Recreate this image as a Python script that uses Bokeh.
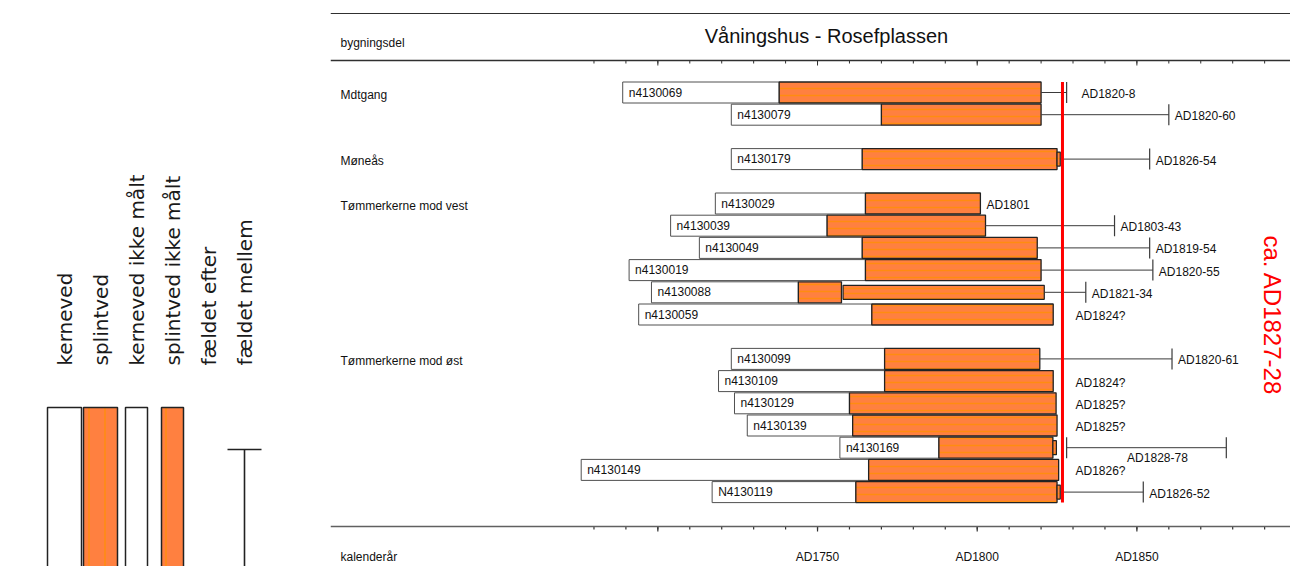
import math
from bokeh.plotting import figure
from bokeh.layouts import row as layout_row
from bokeh.models import Range1d, Span, ColumnDataSource
from bokeh.core.properties import value
from bokeh.embed import file_html
from bokeh.resources import INLINE

# ---------------- data ----------------
TITLE = "Våningshus - Rosefplassen"
HEADER = "bygningsdel"
AXIS_NAME = "kalenderår"

GROUP_LABELS = ["Mdtgang", "Møneås", "Tømmerkerne mod  vest", "Tømmerkerne mod øst"]
GROUP_ROWS = [0, 3, 5, 12]

SAMPLES = ["n4130069", "n4130079", "n4130179", "n4130029", "n4130039", "n4130049",
           "n4130019", "n4130088", "n4130059", "n4130099", "n4130109", "n4130129",
           "n4130139", "n4130169", "n4130149", "N4130119"]
ROWS = [0, 1, 3, 5, 6, 7, 8, 9, 10, 12, 13, 14, 15, 16, 17, 18]
HEART_START = [1689, 1723, 1723, 1718, 1704, 1713, 1691, 1698, 1694, 1723, 1719, 1724,
               1728, 1757, 1676, 1717]
SAP_START = [1738, 1770, 1764, 1765, 1753, 1764, 1765, 1744, 1767, 1771, 1771, 1760,
             1761, 1788, 1766, 1762]
SAP_END = [1820, 1820, 1825, 1801, 1802.6, 1818.8, 1820, 1757.5, 1823.8, 1819.6, 1823.8,
           1824.7, 1825, 1823.7, 1825.5, 1825]
FELLED_AFTER = [1828, 1860, 1854, None, 1843, 1854, 1855, 1834, None, 1861, None, None,
                None, None, None, 1852]
DATE_LABELS = ["AD1820-8", "AD1820-60", "AD1826-54", "AD1801", "AD1803-43", "AD1819-54",
               "AD1820-55", "AD1821-34", "AD1824?", "AD1820-61", "AD1824?", "AD1825?",
               "AD1825?", "AD1828-78", "AD1826?", "AD1826-52"]

# sapwood not measured (thin bars)
UNMEAS_ROWS = [3, 9, 16, 18]
UNMEAS_START = [1825, 1758, 1823.7, 1825]
UNMEAS_END = [1826, 1821, 1824.8, 1826]

# felled between
RANGE_ROWS = [16]
RANGE_FROM = [1828]
RANGE_TO = [1878]

FELLING_YEAR = 1826.7
FELLING_TEXT = "ca. AD1827-28"

MAJOR_TICKS = [1700, 1750, 1800, 1850]
MINOR_TICKS = list(range(1680, 1900, 10))
TICK_LABELS = ["", "AD1750", "AD1800", "AD1850"]

LEGEND_LABELS = ["kerneved", "splintved", "kerneved ikke målt", "splintved ikke målt",
                 "fældet efter", "fældet mellem"]

# ---------------- styles / geometry ----------------
ORANGE = "#FF8040"
STRIPE = "#FF8C10"
INK = "#111111"
FONT = "Liberation Sans"
X_START, X_END = 1597.5, 1898.1
LEG_W = 330
MAIN_W, H = 960, 566
ROW_PX = 22.2
ROW0_PX = 92                   # canvas y of row 0 centre
PXY = MAIN_W / (X_END - X_START)


def year_at(px):               # canvas x -> year
    return X_START + px / PXY


def row_at(py):                # canvas y -> row index
    return (py - ROW0_PX) / ROW_PX


def rw(px):
    return px / ROW_PX


BAR_H = rw(21)
THIN_H = rw(14)
AXIS_Y = row_at(526)
HEAD_Y = row_at(60)

p = figure(width=MAIN_W, height=H, output_backend="svg", toolbar_location=None,
           x_range=Range1d(X_START, X_END), y_range=Range1d(row_at(H), row_at(0)),
           x_axis_location=None, y_axis_location=None, min_border=0)
p.min_border_left = p.min_border_right = p.min_border_top = p.min_border_bottom = 0
p.frame_align = False
p.outline_line_color = None
p.grid.visible = False


def tick_marks(y_line, y_minor, y_major, color, width):
    p.segment(x0=MINOR_TICKS, y0=[y_line] * len(MINOR_TICKS), x1=MINOR_TICKS,
              y1=[y_minor] * len(MINOR_TICKS), line_color=color, line_width=width)
    p.segment(x0=MAJOR_TICKS, y0=[y_line] * len(MAJOR_TICKS), x1=MAJOR_TICKS,
              y1=[y_major] * len(MAJOR_TICKS), line_color=color, line_width=width)


# header lines and time axes
p.add_layout(Span(location=row_at(13), dimension="width", line_color="#303030", line_width=1))
p.add_layout(Span(location=HEAD_Y, dimension="width", line_color="#303030", line_width=1.3))
tick_marks(HEAD_Y, HEAD_Y + rw(3), HEAD_Y + rw(5), "#303030", 1)
p.add_layout(Span(location=AXIS_Y, dimension="width", line_color="#606060", line_width=1.6))
tick_marks(AXIS_Y, AXIS_Y + rw(3), AXIS_Y + rw(5), "#303030", 1.2)
p.text(x=MAJOR_TICKS, y=[row_at(556)] * len(MAJOR_TICKS), text=TICK_LABELS,
       text_font=value(FONT), text_font_size="12px", text_align="center",
       text_baseline="middle", text_color=INK)
p.text(x=[year_at(10)], y=[row_at(556)], text=[AXIS_NAME], text_font=value(FONT),
       text_font_size="12px", text_align="left", text_baseline="middle", text_color=INK)

p.text(x=[year_at(496)], y=[row_at(35)], text=[TITLE], text_font=value(FONT),
       text_font_size="20px", text_align="center", text_baseline="middle", text_color=INK)
p.text(x=[year_at(10)], y=[row_at(42)], text=[HEADER], text_font=value(FONT),
       text_font_size="12px", text_align="left", text_baseline="middle", text_color=INK)
p.text(x=[year_at(10)] * len(GROUP_ROWS), y=[r + rw(2) for r in GROUP_ROWS], text=GROUP_LABELS,
       text_font=value(FONT), text_font_size="12px", text_align="left",
       text_baseline="middle", text_color=INK)

src = ColumnDataSource(dict(y=ROWS, h0=HEART_START, s0=SAP_START, s1=SAP_END, name=SAMPLES))
p.hbar(y="y", left="h0", right="s0", height=BAR_H, source=src, fill_color="white",
       line_color="#505050", line_width=1)
p.hbar(y="y", left="s0", right="s1", height=BAR_H, source=src, fill_color=ORANGE,
       hatch_pattern="-", hatch_color=STRIPE, hatch_scale=7, hatch_weight=1.5,
       line_color="#222222", line_width=1.3)
p.hbar(y=UNMEAS_ROWS, left=UNMEAS_START, right=UNMEAS_END, height=THIN_H, fill_color=ORANGE,
       hatch_pattern="-", hatch_color=STRIPE, hatch_scale=5, hatch_weight=1.5,
       line_color="#222222", line_width=1.2)
p.text(x="h0", y="y", text="name", source=src, x_offset=6, text_font=value(FONT),
       text_font_size="12px", text_align="left", text_baseline="middle", text_color=INK)

# felled-after lines
visible_end = {}
for r, e in zip(ROWS, SAP_END):
    visible_end[r] = e
for r, e in zip(UNMEAS_ROWS, UNMEAS_END):
    visible_end[r] = max(visible_end[r], e)

fx0, fx1, fy = [], [], []
for r, t in zip(ROWS, FELLED_AFTER):
    if t is not None:
        fx0.append(visible_end[r]); fx1.append(t); fy.append(r)
p.segment(x0=fx0, y0=fy, x1=fx1, y1=fy, line_color="#3a3a3a", line_width=1)
p.segment(x0=fx1, y0=[y - BAR_H / 2 for y in fy], x1=fx1, y1=[y + BAR_H / 2 for y in fy],
          line_color="#3a3a3a", line_width=1.2)
# felled-between ranges
p.segment(x0=RANGE_FROM, y0=RANGE_ROWS, x1=RANGE_TO, y1=RANGE_ROWS, line_color="#3a3a3a", line_width=1)
for xs in (RANGE_FROM, RANGE_TO):
    p.segment(x0=xs, y0=[y - BAR_H / 2 for y in RANGE_ROWS], x1=xs,
              y1=[y + BAR_H / 2 for y in RANGE_ROWS], line_color="#3a3a3a", line_width=1.2)

# date labels
lx, ly, lt = [], [], []
min_x = FELLING_YEAR + 13 / PXY
range_rows = set(RANGE_ROWS)
for r, t, lab in zip(ROWS, FELLED_AFTER, DATE_LABELS):
    if r in range_rows:
        continue
    anchor = t if t is not None else visible_end[r]
    x = anchor + 6 / PXY
    if visible_end[r] > FELLING_YEAR - 10:
        x = max(x, min_x + (6 / PXY if t is not None else 0))
    lx.append(x); ly.append(r + rw(1.5)); lt.append(lab)
p.text(x=lx, y=ly, text=lt, text_font=value(FONT), text_font_size="12px",
       text_align="left", text_baseline="middle", text_color=INK)
for r, a, b in zip(RANGE_ROWS, RANGE_FROM, RANGE_TO):
    lab = DATE_LABELS[ROWS.index(r)]
    p.text(x=[(a + b) / 2], y=[r + rw(10)], text=[lab], x_offset=11, text_font=value(FONT),
           text_font_size="12px", text_align="center", text_baseline="middle", text_color=INK)

# felling estimate
p.segment(x0=[FELLING_YEAR], y0=[min(ROWS) - BAR_H / 2], x1=[FELLING_YEAR],
          y1=[max(ROWS) + BAR_H / 2], line_color="#ff0000", line_width=3)
p.text(x=[year_at(942)], y=[row_at(315)], text=[FELLING_TEXT], angle=-math.pi / 2,
       text_font=value(FONT), text_font_size="24px", text_align="center",
       text_baseline="middle", text_color="#ff0000")

# ---------------- legend panel ----------------
lf = figure(width=LEG_W, height=H, output_backend="svg", toolbar_location=None,
            x_range=Range1d(0, LEG_W), y_range=Range1d(H, 0),
            x_axis_location=None, y_axis_location=None, min_border=0)
lf.min_border_left = lf.min_border_right = lf.min_border_top = lf.min_border_bottom = 0
lf.frame_align = False
lf.outline_line_color = None
lf.grid.visible = False

col_x = [64 + 36 * i for i in range(len(LEGEND_LABELS))]
lf.text(x=col_x, y=[365] * len(col_x), text=LEGEND_LABELS, angle=math.pi / 2,
        text_font=value("DejaVu Sans"), text_font_size="20px", text_align="left",
        text_baseline="middle", text_color="#1a1a1a")
SW_TOP, SW_BOTTOM = 407, 700
lf.quad(left=[col_x[0] - 17], right=[col_x[0] + 17], top=[SW_TOP], bottom=[SW_BOTTOM],
        fill_color="white", line_color="#222222", line_width=1.5)
lf.quad(left=[col_x[1] - 17], right=[col_x[1] + 17], top=[SW_TOP], bottom=[SW_BOTTOM],
        fill_color=ORANGE, hatch_pattern="|", hatch_color=STRIPE, hatch_scale=16,
        hatch_weight=1.5, line_color="#222222", line_width=1.5)
lf.quad(left=[col_x[2] - 11], right=[col_x[2] + 11], top=[SW_TOP], bottom=[SW_BOTTOM],
        fill_color="white", line_color="#222222", line_width=1.5)
lf.quad(left=[col_x[3] - 11], right=[col_x[3] + 11], top=[SW_TOP], bottom=[SW_BOTTOM],
        fill_color=ORANGE, hatch_pattern="|", hatch_color=STRIPE, hatch_scale=22,
        hatch_weight=1.5, line_color="#222222", line_width=1.5)
lf.segment(x0=[col_x[5] - 17, col_x[5]], y0=[449, 449], x1=[col_x[5] + 17, col_x[5]],
           y1=[449, SW_BOTTOM], line_color="#222222", line_width=1.6)

layout = layout_row(lf, p)
open("out.html", "w").write(file_html(layout, INLINE))
